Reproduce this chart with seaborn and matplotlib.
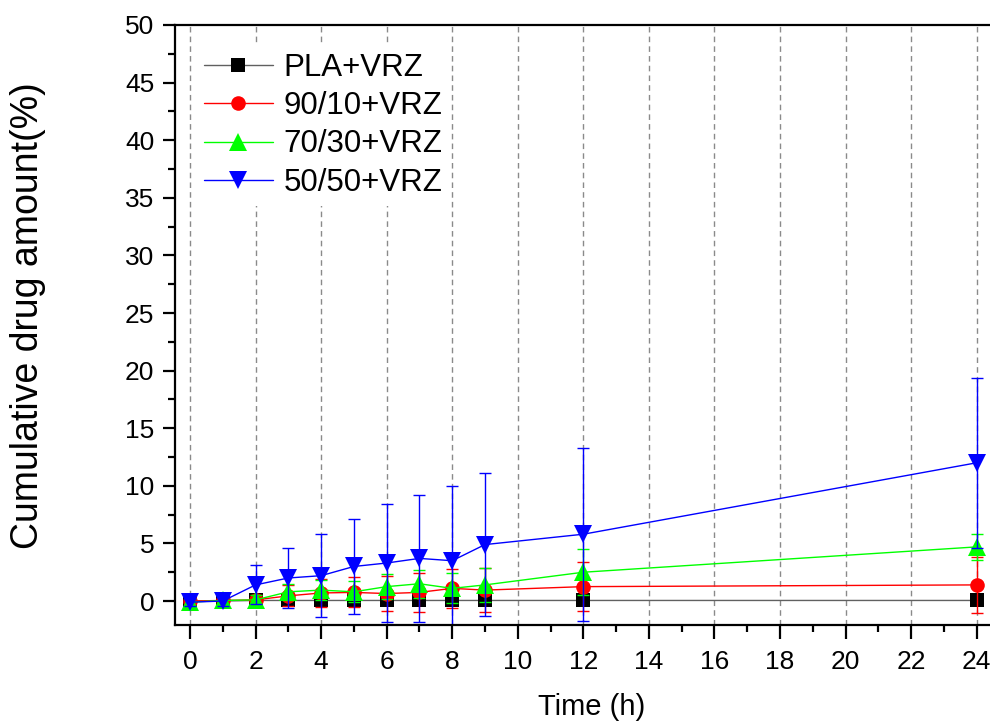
import matplotlib
matplotlib.use('agg')

import numpy as np
import pandas as pd
import matplotlib.pyplot as plt
import seaborn as sns
from matplotlib.ticker import MultipleLocator

# sampling times (h)
times = [0, 1, 2, 3, 4, 5, 6, 7, 8, 9, 12, 24]

# cumulative release (%) and error bars
pla_vrz = [0.0, 0.0, 0.05, 0.05, 0.05, 0.05, 0.05, 0.05, 0.05, 0.05, 0.05, 0.05]
pla_err = [0.1, 0.1, 0.1, 0.2, 0.2, 0.2, 0.2, 0.2, 0.2, 0.2, 0.2, 0.2]

r90_vrz = [0.0, 0.05, 0.1, 0.45, 0.7, 0.75, 0.65, 0.75, 1.1, 0.95, 1.25, 1.4]
r90_err = [0.2, 0.2, 0.4, 0.9, 1.2, 1.3, 1.5, 1.7, 1.7, 1.9, 2.1, 2.4]

r70_vrz = [-0.1, 0.05, 0.1, 0.8, 0.95, 0.8, 1.25, 1.5, 1.1, 1.4, 2.5, 4.7]
r70_err = [0.3, 0.3, 0.4, 0.7, 0.9, 0.9, 1.1, 1.2, 1.3, 1.5, 2.0, 1.1]

r50_vrz = [-0.1, 0.0, 1.4, 2.0, 2.2, 3.0, 3.3, 3.7, 3.5, 4.9, 5.8, 12.0]
r50_err = [0.3, 0.4, 1.7, 2.6, 3.6, 4.1, 5.1, 5.5, 6.5, 6.2, 7.5, 7.4]

labels = ["PLA+VRZ", "90/10+VRZ", "70/30+VRZ", "50/50+VRZ"]

sns.set_theme(style='ticks')
plt.rcParams['font.family'] = ['Liberation Sans', 'DejaVu Sans']
plt.rcParams['text.color'] = 'black'
plt.rcParams['axes.labelcolor'] = 'black'

fig = plt.figure(figsize=(9.9, 7.21), dpi=100)
# axes runs a little past the right edge like the cropped original
ax = fig.add_axes([175/990, 96/721, 818/990, 600/721])

series = [
    (labels[0], pla_vrz, pla_err, '#606060', 'black', 's', 10.5),
    (labels[1], r90_vrz, r90_err, '#ff0000', '#ff0000', 'o', 10.5),
    (labels[2], r70_vrz, r70_err, '#00ff00', '#00ff00', '^', 12.5),
    (labels[3], r50_vrz, r50_err, '#0000ff', '#0000ff', 'v', 12.5),
]

for name, vals, err, lcol, mcol, mk, ms in series:
    ax.errorbar(times, vals, yerr=err, fmt='none', ecolor=mcol if mcol != 'black' else lcol,
                elinewidth=1.0, capsize=4.5, capthick=1.0)
    df = pd.DataFrame({'time': times, 'value': vals})
    sns.lineplot(data=df, x='time', y='value', ax=ax, color=lcol, linewidth=1.0,
                 marker=mk, markersize=ms, markerfacecolor=mcol,
                 markeredgecolor=mcol, markeredgewidth=0, label=name)

ax.set_xlim(-0.457, 24.5)
ax.set_ylim(-2.08, 50)
ax.xaxis.set_major_locator(MultipleLocator(2))
ax.xaxis.set_minor_locator(MultipleLocator(1))
ax.yaxis.set_major_locator(MultipleLocator(5))
ax.yaxis.set_minor_locator(MultipleLocator(2.5))

ax.xaxis.grid(True, which='major', linestyle=(0, (4, 3)), color='#8a8a8a', linewidth=1.0)
ax.set_axisbelow(True)

for sp in ax.spines.values():
    sp.set_linewidth(1.6)
    sp.set_color('black')

ax.tick_params(which='major', direction='out', length=9, width=1.6, labelsize=19,
               colors='black', labelcolor='black')
ax.tick_params(axis='x', which='major', length=10, pad=8)
ax.tick_params(axis='y', which='major', pad=6)
ax.tick_params(which='minor', direction='out', length=5, width=1.6, colors='black')

ax.set_xlabel("Time (h)", fontsize=21, color='black')
ax.set_ylabel("Cumulative drug amount(%)", fontsize=27, color='black')
ax.xaxis.set_label_coords(0.5095, -0.113)
ax.yaxis.set_label_coords(-0.158, 0.515)

leg = ax.legend(loc='upper left', bbox_to_anchor=(0.026, 0.967), fontsize=22.5,
                frameon=True, fancybox=False, framealpha=1, facecolor='white',
                edgecolor='none', borderaxespad=0, borderpad=0.25,
                handlelength=2.2, handletextpad=0.35, labelspacing=0.27)
for t in leg.get_texts():
    t.set_color('black')

fig.savefig('out.png', dpi=100)
